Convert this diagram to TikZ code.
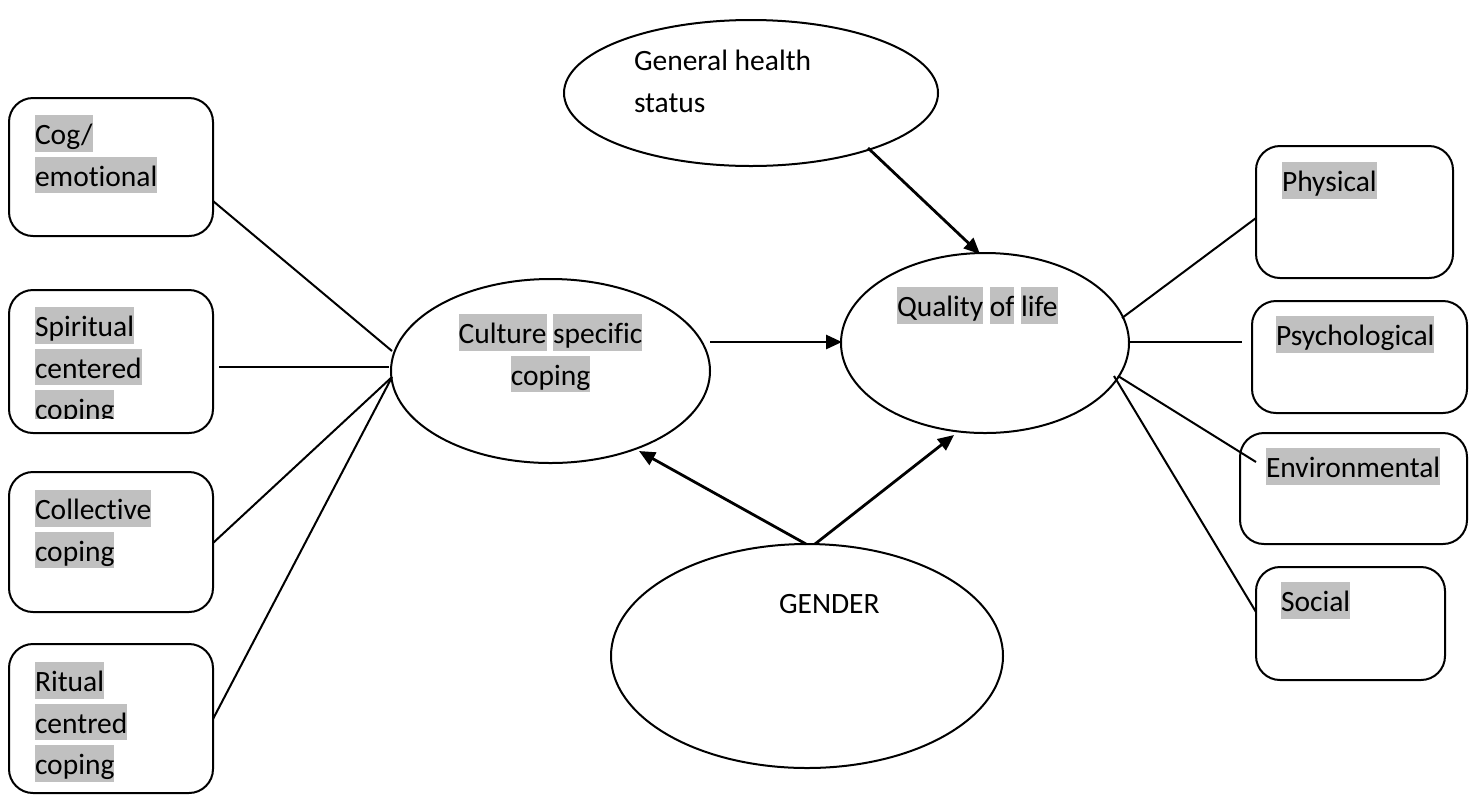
\documentclass[tikz,border=0pt]{standalone}
\usepackage{fontspec}
\setmainfont{Carlito}[RawFeature={-liga;-clig;-calt}]
\usetikzlibrary{shapes.geometric,arrows.meta,calc}
\definecolor{hlgray}{RGB}{192,192,192}
\newcommand\hlw[1]{{\setlength{\fboxsep}{0pt}\colorbox{hlgray}{\rule[-0.25em]{0pt}{1.25em}#1}}}
\newcommand\pln[1]{\rule[-0.25em]{0pt}{1.25em}#1}
\begin{document}
\begin{tikzpicture}[x=0.5pt,y=-0.5pt,
  box/.style={draw, line width=1pt, rounded corners=12pt, inner sep=0pt, outer sep=0pt},
  oval/.style={draw, ellipse, line width=1pt, inner sep=0pt, outer sep=0pt},
  lbl/.style={anchor=north west, inner sep=0pt, outer sep=0pt, align=left, font=\fontsize{14.75pt}{20.75pt}\selectfont},
  clbl/.style={lbl, anchor=north, align=center},
  link/.style={line width=1pt},
  arr/.style={line width=1.4pt, -{Triangle[length=8pt,width=7pt]}}]
\useasboundingbox[fill=white] (0,0) rectangle (1476,794);

% left boxes
\node[box, minimum width=102pt, minimum height=69pt] (cog) at (111,167) {};
\node[box, minimum width=102pt, minimum height=71.5pt] (spir) at (111,361.5) {};
\node[box, minimum width=102pt, minimum height=70pt] (coll) at (111,542) {};
\node[box, minimum width=102pt, minimum height=74.5pt] (rit) at (111,718.5) {};

% right boxes
\node[box, minimum width=98.5pt, minimum height=66pt] (phys) at (1354.5,212) {};
\node[box, minimum width=107.5pt, minimum height=56pt] (psych) at (1359.5,357) {};
\node[box, minimum width=113.5pt, minimum height=55.5pt] (env) at (1353.5,488.5) {};
\node[box, minimum width=94.5pt, minimum height=56.5pt] (soc) at (1350.5,623.5) {};

% ellipses
\node[oval, minimum width=187pt, minimum height=73pt] (ghs) at (751,93) {};
\node[oval, minimum width=159.5pt, minimum height=92pt] (cult) at (550.5,371) {};
\node[oval, minimum width=144pt, minimum height=90pt] (qol) at (985,343) {};
\node[oval, minimum width=196pt, minimum height=112pt] (gen) at (807,656) {};

% texts
\node[lbl] (tcog) at (35,115) {\hlw{Cog/}\\\hlw{emotional}};
\begin{scope}
\clip (0,280) rectangle (230,418);
\node[lbl] (tspir) at (35,307) {\hlw{Spiritual}\\\hlw{centered}\\\hlw{coping}};
\end{scope}
\node[lbl] (tcoll) at (35,490) {\hlw{Collective}\\\hlw{coping}};
\node[lbl] (trit) at (35,662) {\hlw{Ritual}\\\hlw{centred}\\\hlw{coping}};

\node[lbl] (tphys) at (1282,162) {\hlw{Physical}};
\node[lbl] (tpsych) at (1276,316) {\hlw{Psychological}};
\node[lbl] (tenv) at (1266,448) {\hlw{Environmental}};
\node[lbl] (tsoc) at (1281,582) {\hlw{Social}};

\node[lbl] (tghs) at (634,41) {\pln{General health}\\\pln{status}};
\node[clbl] (tcult) at (550.5,314) {\hlw{Culture} \hlw{specific}\\\hlw{coping}};
\node[lbl] (tqol) at (897,287) {\hlw{Quality} \hlw{of} \hlw{life}};
\node[lbl] (tgen) at (779,584) {\pln{GENDER}};

% undirected links, left
\draw[link] ($(cog.east)+(0,34)$) -- ($(cult.west)+(1,-20)$);
\draw[link] ($(spir.east)+(6,5.5)$) -- ($(cult.west)+(-2,-4)$);
\draw[link] ($(coll.east)+(0,1)$) -- ($(cult.west)+(1,6)$);
\draw[link] ($(rit.east)+(0,0.5)$) -- ($(cult.west)+(1,6)$);

% undirected links, right
\draw[link] ($(qol.east)+(-7,-25)$) -- ($(phys.west)+(0,6)$);
\draw[link] ($(qol.east)+(0,-1)$) -- ($(psych.west)+(-10,-15)$);
\draw[link] ($(qol.east)+(-11,33)$) -- ($(env.west)+(16,-26.5)$);
\draw[link] ($(qol.east)+(-15,33)$) -- ($(soc.west)+(0,-11.5)$);

% arrows
\draw[arr] ($(ghs.south)+(117,-18)$) -- ($(qol.north)+(-5,1)$);
\draw[arr] ($(cult.east)+(0,-29)$) -- ($(qol.west)+(1,-1)$);
\draw[arr] ($(gen.north)+(-1,0)$) -- ($(cult.south)+(88.5,-12)$);
\draw[arr] ($(gen.north)+(8,0)$) -- ($(qol.south)+(-31,2)$);
\end{tikzpicture}
\end{document}
